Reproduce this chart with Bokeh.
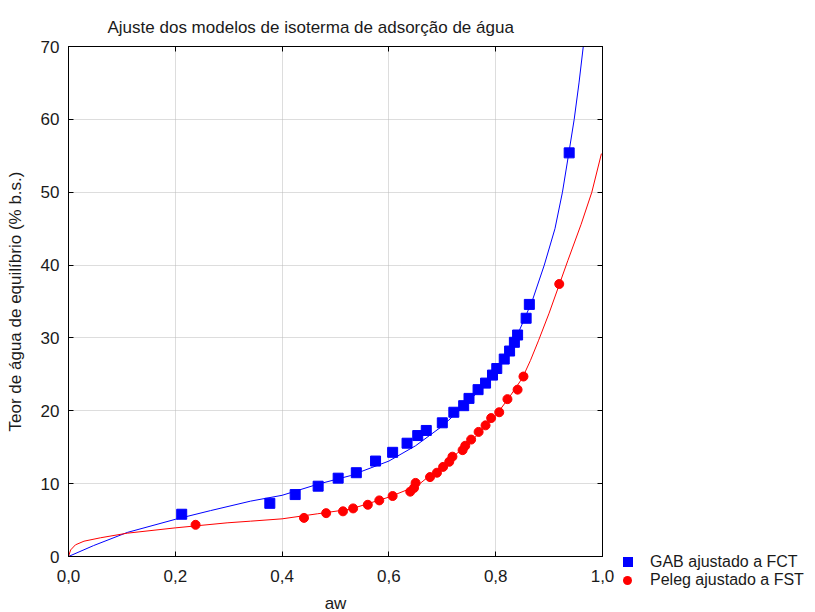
from bokeh.plotting import figure
from bokeh.models import Range1d, FixedTicker, LinearAxis, Div
from bokeh.layouts import row
from bokeh.embed import file_html
from bokeh.resources import INLINE

# Experimental points
gab_pts_aw = [0.212, 0.377, 0.4245, 0.4675, 0.505, 0.539, 0.575, 0.607, 0.634, 0.654,
              0.670, 0.700, 0.7216, 0.740, 0.750, 0.767, 0.781, 0.794, 0.802, 0.816,
              0.826, 0.835, 0.841, 0.857, 0.863, 0.9376]
gab_pts_m = [5.8, 7.3, 8.5, 9.65, 10.75, 11.5, 13.1, 14.3, 15.55, 16.6,
             17.3, 18.35, 19.8, 20.7, 21.7, 22.9, 23.8, 24.9, 25.8, 27.1,
             28.2, 29.4, 30.4, 32.7, 34.6, 55.4]

peleg_pts_aw = [0.238, 0.441, 0.4825, 0.514, 0.533, 0.5605, 0.582, 0.607, 0.640, 0.647,
                0.650, 0.677, 0.690, 0.7015, 0.713, 0.719, 0.738, 0.743, 0.754, 0.768,
                0.781, 0.7915, 0.8066, 0.822, 0.841, 0.852, 0.919]
peleg_pts_m = [4.35, 5.3, 5.95, 6.2, 6.6, 7.1, 7.7, 8.3, 8.9, 9.4,
               10.1, 10.9, 11.5, 12.3, 13.0, 13.7, 14.6, 15.2, 16.05, 17.1,
               18.0, 19.0, 19.8, 21.6, 22.9, 24.7, 37.4]

# Fitted curves
gab_curve_aw = [0, 0.047, 0.11, 0.2, 0.266, 0.341, 0.4, 0.466, 0.528, 0.6, 0.65, 0.7,
                0.75, 0.8, 0.82, 0.84, 0.868, 0.891, 0.911, 0.925, 0.937, 0.947, 0.956, 0.964]
gab_curve_m = [0, 1.5, 3.3, 5.1, 6.3, 7.6, 8.4, 9.9, 11.1, 13.1, 15.2, 17.9,
               21.3, 25.3, 27.8, 30.3, 35.0, 40.0, 45.0, 50.0, 55.4, 60.0, 65.0, 70.0]

peleg_curve_aw = [0, 0.004, 0.013, 0.029, 0.06, 0.11, 0.2, 0.297, 0.341, 0.4, 0.466, 0.528,
                  0.6, 0.653, 0.715, 0.75, 0.8, 0.825, 0.85, 0.865, 0.88, 0.9, 0.918,
                  0.935, 0.96, 0.98, 0.998]
peleg_curve_m = [0, 0.9, 1.6, 2.1, 2.57, 3.2, 3.93, 4.62, 4.85, 5.17, 5.86, 6.5,
                 8.15, 9.7, 13.4, 15.5, 19.35, 21.8, 24.5, 26.9, 29.6, 33.4, 37.1,
                 40.6, 45.6, 50.0, 55.3]

x_ticks = [0.0, 0.2, 0.4, 0.6, 0.8, 1.0]
x_tick_labels = ["0,0", "0,2", "0,4", "0,6", "0,8", "1,0"]
y_ticks = [0, 10, 20, 30, 40, 50, 60, 70]

title_text = "Ajuste dos modelos de isoterma de adsorção de água"
x_label = "aw"
y_label = "Teor de água de equilíbrio (% b.s.)"
legend_labels = ["GAB ajustado a FCT", "Peleg ajustado a FST"]

FONT = "Liberation Sans"
TXT = "#1a1a1a"
BLUE = "#0000ff"
RED = "#ff0000"

p = figure(width=615, height=612, output_backend="svg", toolbar_location=None,
           x_range=Range1d(0, 1), y_range=Range1d(0, 70),
           min_border_left=68, min_border_right=13, min_border_top=46, min_border_bottom=56,
           frame_width=534, frame_height=510)
p.background_fill_color = "white"
p.border_fill_color = "white"
p.outline_line_color = "black"
p.outline_line_width = 1

p.title.text = title_text
p.title.text_font = FONT
p.title.text_font_style = "normal"
p.title.text_font_size = "17px"
p.title.align = "left"
p.title.offset = 39
p.title.standoff = 19
p.title.text_color = TXT

for ax in (p.xaxis[0], p.yaxis[0]):
    ax.major_tick_in = 5
    ax.major_tick_out = 0
    ax.minor_tick_in = 0
    ax.minor_tick_out = 0
    ax.axis_line_color = "black"
    ax.major_tick_line_color = "black"
    ax.major_label_text_font = FONT
    ax.major_label_text_font_size = "17px"
    ax.major_label_text_color = TXT
    ax.axis_label_text_font = FONT
    ax.axis_label_text_font_size = "17px"
    ax.axis_label_text_font_style = "normal"
    ax.axis_label_text_color = TXT

p.xaxis[0].ticker = FixedTicker(ticks=x_ticks)
p.xaxis[0].major_label_overrides = {t: l for t, l in zip(x_ticks, x_tick_labels)}
p.xaxis[0].major_label_standoff = 13
p.xaxis[0].axis_label = x_label
p.xaxis[0].axis_label_standoff = 9
p.yaxis[0].ticker = FixedTicker(ticks=y_ticks)
p.yaxis[0].major_label_standoff = 9
p.yaxis[0].axis_label = y_label
p.yaxis[0].axis_label_standoff = 13

top_ax = LinearAxis(ticker=FixedTicker(ticks=x_ticks),
                    major_label_overrides={t: "" for t in x_ticks},
                    major_tick_in=5, major_tick_out=0, minor_tick_in=0, minor_tick_out=0,
                    major_label_standoff=0, axis_line_color="black")
right_ax = LinearAxis(ticker=FixedTicker(ticks=y_ticks),
                      major_label_overrides={t: "" for t in y_ticks},
                      major_tick_in=5, major_tick_out=0, minor_tick_in=0, minor_tick_out=0,
                      major_label_standoff=0, axis_line_color="black")
p.add_layout(top_ax, "above")
p.add_layout(right_ax, "right")

p.xgrid.ticker = FixedTicker(ticks=x_ticks)
p.ygrid.ticker = FixedTicker(ticks=y_ticks)
for g in (p.xgrid[0], p.ygrid[0]):
    g.grid_line_color = "#bbbbbb"
    g.grid_line_dash = "1 1"
    g.grid_line_width = 1

p.line(gab_curve_aw, gab_curve_m, line_color=BLUE, line_width=1)
p.line(peleg_curve_aw, peleg_curve_m, line_color=RED, line_width=1)
p.scatter(gab_pts_aw, gab_pts_m, marker="square", size=10, fill_color=BLUE, line_color=BLUE)
p.scatter(peleg_pts_aw, peleg_pts_m, marker="circle", size=9, fill_color=RED, line_color=RED)

# Legend outside the plot frame (bottom right), as real text in an HTML panel
marker_css = ["width:10px;height:10px;background:%s;" % BLUE,
              "width:9px;height:9px;border-radius:50%%;background:%s;" % RED]
rows_html = ""
for i, (lab, mcss) in enumerate(zip(legend_labels, marker_css)):
    top = 553 + 18 * i
    rows_html += (
        '<div style="position:absolute;left:8px;top:%dpx;height:18px;width:190px;'
        'display:flex;align-items:center;">'
        '<span style="display:inline-block;%s"></span>'
        '<span style="position:absolute;left:27px;white-space:nowrap;font-family:\'%s\';'
        'font-size:16px;line-height:18px;color:%s;">%s</span></div>'
        % (top, mcss, FONT, TXT, lab)
    )
legend_html = ('<div style="position:relative;width:200px;height:612px;margin:0;padding:0;">'
               + rows_html + '</div>')
legend_div = Div(text=legend_html, width=200, height=612, margin=0)

open("out.html", "w").write(file_html(row(p, legend_div), INLINE))
